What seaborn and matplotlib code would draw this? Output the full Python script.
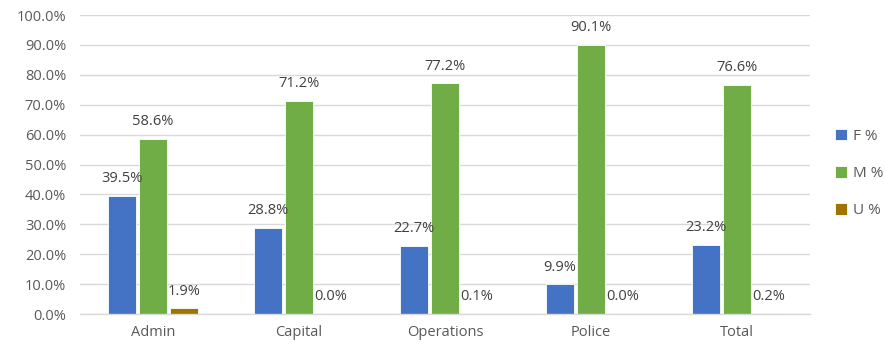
import matplotlib
matplotlib.use("Agg")
import matplotlib.pyplot as plt
from matplotlib.ticker import PercentFormatter
import seaborn as sns
import pandas as pd

categories = ["Admin", "Capital", "Operations", "Police", "Total"]
series = ["F %", "M %", "U %"]
f_pct = [39.5, 28.8, 22.7, 9.9, 23.2]
m_pct = [58.6, 71.2, 77.2, 90.1, 76.6]
u_pct = [1.9, 0.0, 0.1, 0.0, 0.2]
colors = ["#4472C4", "#70AD47", "#A07400"]

rows = []
for name, vals in zip(series, [f_pct, m_pct, u_pct]):
    for cat, v in zip(categories, vals):
        rows.append({"Department": cat, "Group": name, "Value": v})
df = pd.DataFrame(rows)

sns.set_theme(style="white")
plt.rcParams["font.family"] = ["Open Sans", "DejaVu Sans"]
text_color = "#595959"

fig = plt.figure(figsize=(8.85, 3.48), dpi=100)
ax = fig.add_axes([0.0904, 0.0977, 0.825, 0.859])

sns.barplot(data=df, x="Department", y="Value", hue="Group",
            palette=colors, saturation=1, width=0.64, gap=0.12, ax=ax,
            edgecolor="white", linewidth=0.6, legend=True)

ax.set_ylim(0, 100)
ax.set_xlim(-0.5, len(categories) - 0.5)
ax.set_yticks(range(0, 101, 10))
ax.yaxis.set_major_formatter(PercentFormatter(decimals=1))
ax.grid(axis="y", color="#D9D9D9", linewidth=1)
ax.set_axisbelow(True)
for side in ["left", "right", "top"]:
    ax.spines[side].set_visible(False)
ax.spines["bottom"].set_color("#D9D9D9")
ax.spines["bottom"].set_linewidth(1)
ax.set_xlabel("")
ax.set_ylabel("")
ax.tick_params(axis="both", length=0, colors=text_color, labelsize=10.5)
ax.tick_params(axis="y", pad=10)
ax.tick_params(axis="x", pad=8)

for container in ax.containers:
    labels = [f"{b.get_height():.1f}%" for b in container]
    ax.bar_label(container, labels=labels, padding=7,
                 color="#404040", fontsize=10.5)

handles, labs = ax.get_legend_handles_labels()
ax.legend(handles, labs, loc="center left", bbox_to_anchor=(1.015, 0.47),
          frameon=False, handlelength=0.8, handleheight=0.8,
          labelspacing=1.45, fontsize=11, labelcolor=text_color,
          handletextpad=0.4)

fig.savefig("out.png", dpi=100)
